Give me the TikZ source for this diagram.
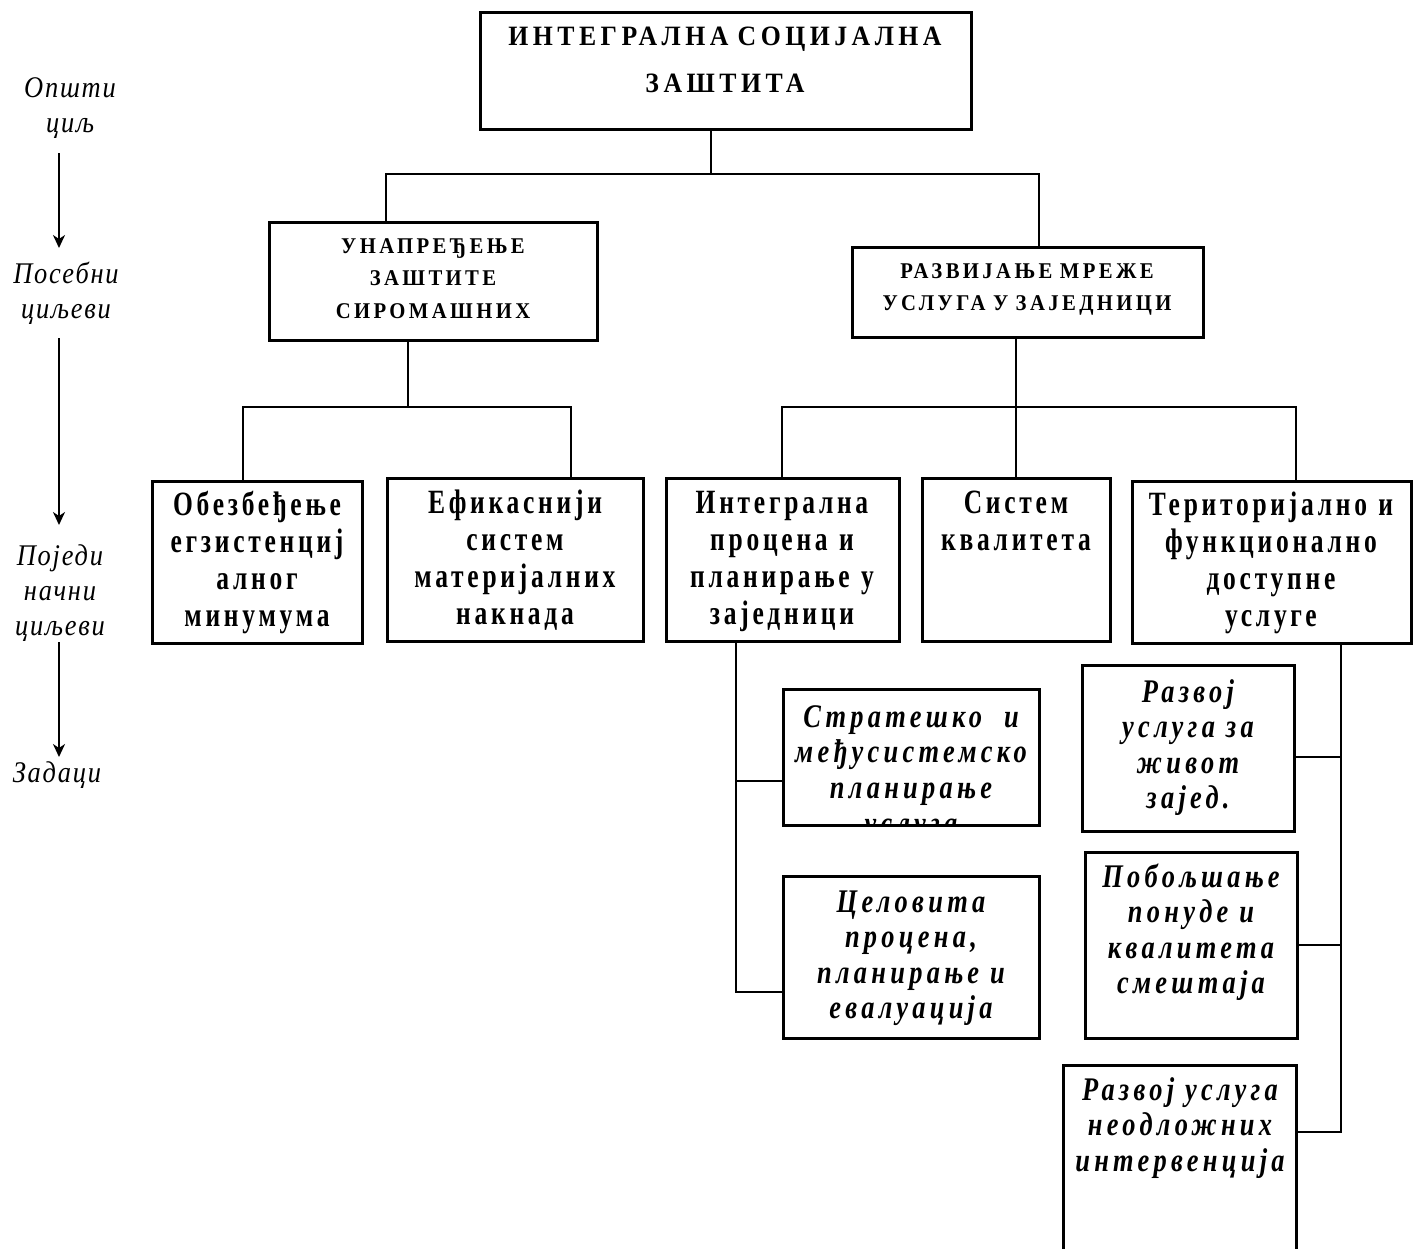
\documentclass[tikz,border=0pt]{standalone}
\usepackage{fontspec}
\setmainfont{Liberation Serif}
\newfontfamily\capsfont[FakeStretch=0.92,LetterSpace=16]{Liberation Serif}
\newfontfamily\capsfontB[FakeStretch=0.92,LetterSpace=15]{Liberation Serif}
\newfontfamily\boxfont[FakeStretch=0.75,LetterSpace=11]{Liberation Serif}
\newfontfamily\itfont[FakeStretch=0.8,LetterSpace=13]{Liberation Serif}
\newfontfamily\labfont[FakeStretch=0.88,LetterSpace=6]{Liberation Serif}
\usetikzlibrary{fit,arrows.meta}
\begin{document}
\begin{tikzpicture}[x=1pt,y=-1pt,
  box/.style={draw,line width=3pt,inner sep=0pt},
  conn/.style={line width=2.6pt},
  arr/.style={line width=2.2pt,-{Stealth[length=13pt,width=12pt,inset=4pt]}},
  txt/.style={anchor=base,align=center,inner sep=0pt,text width=520pt},
  capA/.style={font=\capsfont\bfseries\fontsize{28}{47}\selectfont},
  capB/.style={font=\capsfontB\bfseries\fontsize{22.5}{32.5}\selectfont},
  lvl/.style={font=\boxfont\bfseries\fontsize{34}{37}\selectfont},
  task/.style={font=\itfont\bfseries\itshape\fontsize{33}{35.5}\selectfont},
  lab/.style={font=\labfont\itshape\fontsize{30}{35}\selectfont}]
\useasboundingbox (0,0) rectangle (1414,1248);

% boxes
\node[box,fit={(480,12) (971,129)}] (top) {};
\node[box,fit={(269,222) (597,340)}] (unap) {};
\node[box,fit={(852,247) (1203,337)}] (razv) {};
\node[box,fit={(152,481) (362,643)}] (obez) {};
\node[box,fit={(387,478) (643,641)}] (efik) {};
\node[box,fit={(666,478) (899,641)}] (integ) {};
\node[box,fit={(922,478) (1110,641)}] (sist) {};
\node[box,fit={(1132,481) (1411,643)}] (teri) {};
\node[box,fit={(783,689) (1039,825)}] (strat) {};
\node[box,fit={(783,876) (1039,1038)}] (celov) {};
\node[box,fit={(1082,665) (1294,831)}] (razvoj) {};
\node[box,fit={(1085,852) (1297,1038)}] (pobolj) {};
\node[box,fit={(1063,1065) (1296,1262)}] (neodl) {};

% box texts
\node[txt,capA] (topT) at (725,45) {ИНТЕГРАЛНА СОЦИЈАЛНА\\ЗАШТИТА};
\node[txt,capB] (unapT) at (433,253) {УНАПРЕЂЕЊЕ\\ЗАШТИТЕ\\СИРОМАШНИХ};
\node[txt,capB] (razvT) at (1027,278) {РАЗВИЈАЊЕ МРЕЖЕ\\УСЛУГА У ЗАЈЕДНИЦИ};
\node[txt,lvl] (obezT) at (257,515) {Обезбеђење\\егзистенциј\\алног\\минумума};
\node[txt,lvl] (efikT) at (515,513) {Ефикаснији\\систем\\материјалних\\накнада};
\node[txt,lvl] (integT) at (782,513) {Интегрална\\процена и\\планирање у\\заједници};
\node[txt,lvl] (sistT) at (1016,513) {Систем\\квалитета};
\node[txt,lvl] (teriT) at (1271,515) {Територијално и\\функционално\\доступне\\услуге};
\begin{scope}
\clip (783,689) rectangle (1039,823);
\node[txt,task] (stratT) at (911,727) {Стратешко\ \ и\\међусистемско\\планирање\\[1pt]услуга};
\end{scope}
\node[txt,task] (celovT) at (911,912) {Целовита\\процена,\\планирање и\\евалуација};
\node[txt,task] (razvojT) at (1188,702) {Развој\\услуга за\\живот\\зајед.};
\node[txt,task] (poboljT) at (1191,887) {Побољшање\\понуде и\\квалитета\\смештаја};
\node[txt,task] (neodlT) at (1180,1100) {Развој услуга\\неодложних\\интервенција};

% left labels
\node[txt,lab] (opsti) at (70,97) {Општи\\циљ};
\node[txt,lab] (poseb) at (66,283) {Посебни\\циљеви};
\node[txt,lab] (pojed) at (60,565) {Поједи\\начни\\циљеви};
\node[txt,lab] (zadaci) at (57,782) {Задаци};
\coordinate (a1s) at (59,153); \coordinate (a1e) at (59,248);
\coordinate (a2s) at (59,338); \coordinate (a2e) at (59,525);
\coordinate (a3s) at (59,642); \coordinate (a3e) at (59,757);
\draw[arr] (a1s) -- (a1e);
\draw[arr] (a2s) -- (a2e);
\draw[arr] (a3s) -- (a3e);

% connectors level 1
\coordinate (j0) at (711,174); \coordinate (jL) at (386,174); \coordinate (jR) at (1039,174);
\draw[conn] (top.south -| j0) -- (j0);
\draw[conn] (unap.north -| jL) -- (jL) -- (jR) -- (razv.north -| jR);

% connectors level 2 left
\coordinate (k0) at (408,407); \coordinate (kL) at (243,407); \coordinate (kR) at (571,407);
\draw[conn] (unap.south -| k0) -- (k0);
\draw[conn] (obez.north -| kL) -- (kL) -- (kR) -- (efik.north -| kR);

% connectors level 2 right
\coordinate (mL) at (782,407); \coordinate (mR) at (1296,407);
\draw[conn] (razv.south -| sist.north) -- (sist.north);
\draw[conn] (integ.north -| mL) -- (mL) -- (mR) -- (teri.north -| mR);

% connectors level 3 left
\coordinate (v1) at (736,992); \coordinate (v1a) at (736,781);
\draw[conn] (integ.south -| v1) -- (v1) -- (v1 -| celov.west);
\draw[conn] (v1a) -- (v1a -| strat.west);

% connectors level 3 right
\coordinate (v2) at (1341,1132); \coordinate (v2a) at (1341,757); \coordinate (v2b) at (1341,945);
\draw[conn] (teri.south -| v2) -- (v2) -- (v2 -| neodl.east);
\draw[conn] (v2a) -- (v2a -| razvoj.east);
\draw[conn] (v2b) -- (v2b -| pobolj.east);
\end{tikzpicture}
\end{document}
